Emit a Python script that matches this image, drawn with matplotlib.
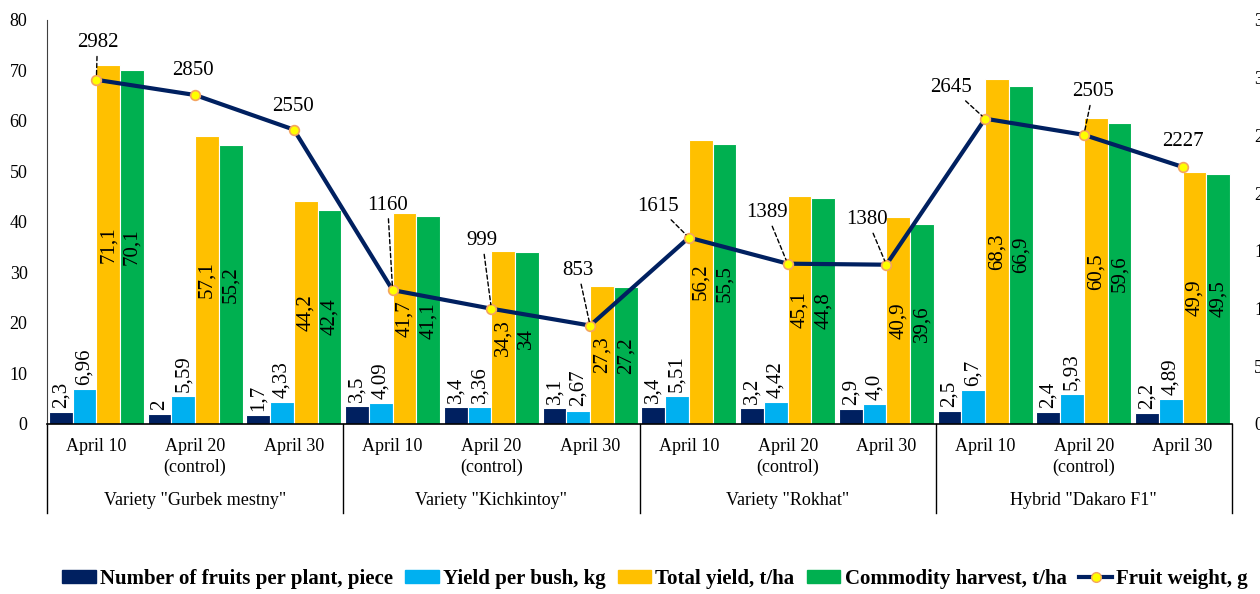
import matplotlib
matplotlib.use('Agg')
import matplotlib.pyplot as plt
import matplotlib.transforms as mtransforms
from matplotlib.patches import Patch
from matplotlib.lines import Line2D
import numpy as np

plt.rcParams['font.family'] = ['Liberation Serif', 'DejaVu Serif']

dates = ['April 10', 'April 20\n(control)', 'April 30'] * 4
groups = ['Variety "Gurbek mestny"', 'Variety "Kichkintoy"', 'Variety "Rokhat"', 'Hybrid "Dakaro F1"']

fruits = [2.3, 2, 1.7, 3.5, 3.4, 3.1, 3.4, 3.2, 2.9, 2.5, 2.4, 2.2]
yield_bush = [6.96, 5.59, 4.33, 4.09, 3.36, 2.67, 5.51, 4.42, 4.0, 6.7, 5.93, 4.89]
total_yield = [71.1, 57.1, 44.2, 41.7, 34.3, 27.3, 56.2, 45.1, 40.9, 68.3, 60.5, 49.9]
commodity = [70.1, 55.2, 42.4, 41.1, 34, 27.2, 55.5, 44.8, 39.6, 66.9, 59.6, 49.5]
fruit_weight = [2982, 2850, 2550, 1160, 999, 853, 1615, 1389, 1380, 2645, 2505, 2227]

# label offsets for fruit weight (pixels), and whether a leader line is drawn
fw_offsets = [(1, 37), (-2, 25), (-1, 23), (-5, 85), (-9, 68), (-12, 55),
              (-31, 31), (-21, 51), (-19, 45), (-34, 31), (9, 43), (0, 25)]
fw_leader = [True, False, False, True, True, True, True, True, True, True, True, False]

names = ['Number of fruits per plant, piece', 'Yield per bush, kg',
         'Total yield, t/ha', 'Commodity harvest, t/ha', 'Fruit weight, g']
colors = ['#002060', '#00B0F0', '#FFC000', '#00B050']


def fmt(v):
    return str(v).replace('.', ',')


fig = plt.figure(figsize=(12.6, 5.94), dpi=100)
ax = fig.add_axes([47 / 1260, 1 - 424 / 594, (1232 - 47) / 1260, 404 / 594])

x = np.arange(len(fruits))
w = 0.24
series = [fruits, yield_bush, total_yield, commodity]
for i, (vals, c) in enumerate(zip(series, colors)):
    pos = x + (i - 1.5) * w
    ax.bar(pos, vals, width=w, color=c, edgecolor='white', linewidth=0.8, zorder=2)
    for p, v in zip(pos, vals):
        if i < 2:
            ax.text(p, v + 0.8, fmt(v), rotation=90, ha='center', va='bottom', fontsize=15)
        else:
            ax.text(p, v / 2, fmt(v), rotation=90, ha='center', va='center', fontsize=15)

ax.set_xlim(-0.5, len(fruits) - 0.5)
ax.set_ylim(0, 80)
ax.set_yticks(range(0, 81, 10))
ax.tick_params(axis='y', length=0, labelsize=13, pad=14)
ax.set_xticks([])
for s in ['top', 'right']:
    ax.spines[s].set_visible(False)
ax.spines['left'].set_color('#404040')
ax.spines['bottom'].set_linewidth(1.2)

# category axis
trans = mtransforms.blended_transform_factory(ax.transData, ax.transAxes)
for xi, d in zip(x, dates):
    ax.text(xi, -0.035, d, transform=trans, ha='center', va='top', fontsize=13, linespacing=1.25)
for g, name in enumerate(groups):
    ax.text(3 * g + 1, -0.19, name, transform=trans, ha='center', va='center', fontsize=13)
for b in range(5):
    xb = 3 * b - 0.5
    ax.plot([xb, xb], [0, -0.22], transform=trans, color='black', lw=1, clip_on=False)

ax2 = ax.twinx()
ax2.set_ylim(0, 3500)
ax2.set_yticks(range(0, 3501, 500))
ax2.tick_params(axis='y', length=0, labelsize=13, pad=16)
for s in ax2.spines.values():
    s.set_visible(False)
ax2.plot(x, fruit_weight, color='#002060', lw=3, marker='o', markersize=7,
         markerfacecolor='#FFFF00', markeredgecolor='#F4A460', markeredgewidth=1.2, zorder=3)
for xi, v, off, lead in zip(x, fruit_weight, fw_offsets, fw_leader):
    arrow = dict(arrowstyle='-', linestyle=(0, (3, 2)), color='black', lw=1,
                 shrinkA=1, shrinkB=3) if lead else None
    ax2.annotate(str(v), (xi, v), xytext=off, textcoords='offset pixels',
                 ha='center', va='center', fontsize=15, arrowprops=arrow)

handles = [Patch(color=c) for c in colors]
handles.append(Line2D([], [], color='#002060', lw=3, marker='o', markersize=7,
                      markerfacecolor='#FFFF00', markeredgecolor='#F4A460'))
fig.legend(handles, names, loc='center', bbox_to_anchor=(0.52, 0.025), ncol=5,
           frameon=False, prop={'weight': 'bold', 'size': 15},
           handlelength=1.6, handleheight=0.6, handletextpad=0.2, columnspacing=0.6)

fig.savefig('out.png', dpi=100)
